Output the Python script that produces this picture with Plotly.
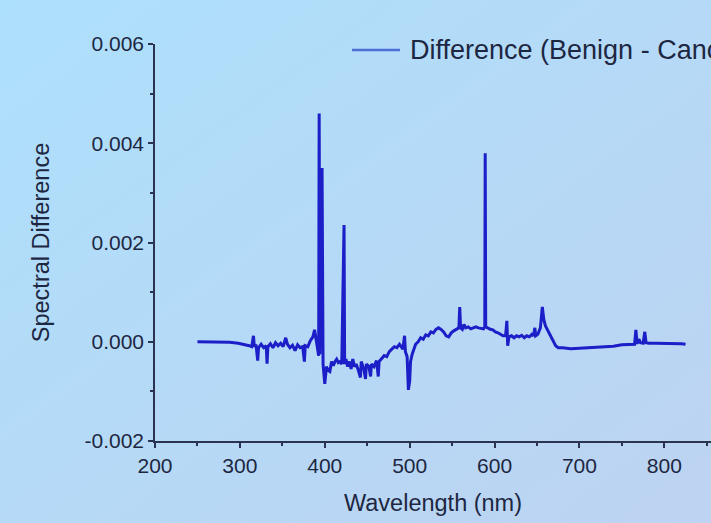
import base64
import plotly.graph_objects as go

# Difference spectrum (benign minus cancerous), wavelength in nm
wavelength_nm = [
    250, 262, 275, 288, 298, 305, 311, 314, 316, 317, 319, 321, 322, 325, 328,
    331, 332, 333, 336, 339, 342, 345, 348, 351, 354, 356, 359, 362, 365, 368,
    371, 374, 376, 377, 380, 383, 386, 388, 390, 391.5, 392.8, 393.4, 394.2,
    396.8, 398, 400, 402, 404, 406, 408, 410, 412, 414, 416, 418, 420, 422.1,
    422.7, 423.4, 425, 427, 429, 431, 433, 435, 437, 440, 442, 443, 446, 448,
    449, 452, 454, 455, 458, 461, 463, 464, 467, 470, 473, 476, 479, 482, 485,
    488, 490, 492, 494, 495, 497, 498.5, 500, 501, 503, 505, 507, 510, 513,
    516, 519, 522, 525, 528, 531, 534, 537, 540, 543, 546, 549, 552, 555, 558,
    559, 560, 562, 564, 566, 569, 572, 575, 578, 581, 584, 587, 588.5, 589,
    589.6, 592, 595, 598, 601, 604, 607, 610, 613, 614.5, 615.5, 617, 620, 623,
    626, 629, 632, 635, 638, 641, 644, 646, 647.5, 648.5, 651, 654, 656.3, 658,
    660, 662, 664, 666, 668, 670, 672, 675, 680, 690, 700, 710, 720, 730, 740,
    750, 760, 765, 766.5, 768, 770, 772, 775, 777, 778.5, 782, 790, 800, 810,
    820, 825,
]
spectral_difference = [
    0.0, 0.0, 0.0, -0.00001, -0.00003, -0.00005, -0.00008, -0.0001, 0.00012,
    -0.0001, -0.00006, -0.00038, -0.00012, -0.00005, -0.00012,
    -0.00008, -0.00044, -0.0001, -0.00004, -0.00012, -0.00002, -0.00008,
    -0.00003, -0.0001, 0.00008, -0.00005, -0.00012, -0.00007, -0.00018,
    -0.00006, -0.00012, -0.0001, -0.0004, -0.00008, -0.0001, 0.00002, 0.0001,
    0.00024, 0.00004, -0.00012, -0.00028, 0.0046, -0.00025,
    0.0035, -0.00045, -0.00085, -0.0005, -0.00058, -0.0006, -0.0004, -0.00048,
    -0.0004, -0.00035, -0.00042, -0.0004, -0.00045, 0.00208,
    0.00235, -0.00045, -0.00035, -0.0005, -0.0004, -0.00055, -0.00035, -0.0005,
    -0.00045, -0.0006, -0.00072, -0.0004, -0.00055, -0.00075,
    -0.00045, -0.0005, -0.0007, -0.00045, -0.0005, -0.00038, -0.0007, -0.0004,
    -0.00035, -0.00028, -0.0003, -0.0002, -0.00015, -0.0001, -0.00012,
    -0.00005, -0.0001, -0.00015, 0.00012, -0.0002, -0.0003, -0.00097, -0.0008,
    -0.0004, -0.00025, -0.00015, -0.00005, 0.0, 0.00008,
    0.00005, 0.00014, 0.00012, 0.0002, 0.00018, 0.00025, 0.00028, 0.00025,
    0.0002, 0.00012, 0.0001, 0.00018, 0.00022, 0.00025, 0.00028,
    0.0007, 0.00028, 0.00025, 0.00035, 0.00028, 0.0003, 0.00026, 0.00028,
    0.0003, 0.00028, 0.00027, 0.00026, 0.0003, 0.0038,
    0.0003, 0.00027, 0.00025, 0.00024, 0.0002, 0.00018, 0.00015, 0.00012,
    0.00012, 0.00042, -0.00008, 0.0001, 0.00012, 0.00008,
    0.00012, 0.0001, 0.00013, 0.00008, 0.00012, 0.0001, 0.00015, 0.00012,
    0.00028, 0.00012, 0.00015, 0.00028, 0.0007, 0.00045,
    0.00032, 0.00025, 0.00018, 0.00012, 0.00005, -0.00002, -0.00008, -0.00012,
    -0.00012, -0.00014, -0.00013, -0.00012, -0.0001, -0.0001, -0.00009,
    -0.00006, -0.00005, -0.00005, 0.00024, -0.00004, 0.00005, -0.00002,
    -0.00003, 0.0002, -0.00002, -0.00003, -0.00003, -0.00003, -0.00004,
    -0.00004, -0.00005,
]

x_tick_vals = [200, 300, 400, 500, 600, 700, 800]
x_tick_text = ["200", "300", "400", "500", "600", "700", "800"]
y_tick_vals = [-0.002, 0.0, 0.002, 0.004, 0.006]
y_tick_text = ["-0.002", "0.000", "0.002", "0.004", "0.006"]

legend_label = "Difference (Benign - Cancer)"

FONT = "Liberation Sans, Arial, sans-serif"
INK = "#1d2742"
AXIS = "#2a3350"
LINE_BLUE = "#1c1ec8"

W, H = 711, 523
ML, MR, MT, MB = 155, 0, 44, 82
PW, PH = W - ML - MR, H - MT - MB

# soft diagonal backdrop behind the whole figure
bg_svg = (
    f"<svg xmlns='http://www.w3.org/2000/svg' width='{W}' height='{H}' "
    f"preserveAspectRatio='none'><defs><linearGradient id='g' x1='0' y1='0' "
    f"x2='1' y2='1'><stop offset='0' stop-color='#ade0fc'/>"
    f"<stop offset='1' stop-color='#bdd3f1'/></linearGradient></defs>"
    f"<rect width='{W}' height='{H}' fill='url(#g)'/></svg>"
)
bg_uri = "data:image/svg+xml;base64," + base64.b64encode(bg_svg.encode()).decode()

fig = go.Figure()
fig.add_trace(go.Scatter(
    x=wavelength_nm,
    y=spectral_difference,
    mode="lines",
    line=dict(color=LINE_BLUE, width=3),
    name=legend_label,
    showlegend=False,
))

axis_common = dict(
    showgrid=False,
    zeroline=False,
    showline=True,
    linecolor=AXIS,
    linewidth=1.5,
    ticks="outside",
    ticklen=5,
    tickwidth=1.5,
    tickcolor=AXIS,
    tickfont=dict(family=FONT, size=21, color=INK),
    automargin=True,
)

fig.update_xaxes(
    range=[200, 855],
    tickvals=x_tick_vals,
    ticktext=x_tick_text,
    minor=dict(dtick=50, ticks="outside", ticklen=3, tickwidth=1.5,
               tickcolor=AXIS),
    title=dict(text="Wavelength (nm)", standoff=19,
               font=dict(family=FONT, size=23.5, color=INK)),
    **axis_common,
)
fig.update_yaxes(
    range=[-0.002, 0.006],
    tickvals=y_tick_vals,
    ticktext=y_tick_text,
    minor=dict(dtick=0.001, ticks="outside", ticklen=3, tickwidth=1.5,
               tickcolor=AXIS),
    title=dict(text="Spectral Difference", standoff=28,
               font=dict(family=FONT, size=23.5, color=INK)),
    **axis_common,
)

# Legend entry: sample line plus label (runs off the right edge of the page)
fig.add_shape(type="line", xref="paper", yref="paper",
              x0=(352 - ML) / PW, x1=(400 - ML) / PW, y0=0.985, y1=0.985,
              line=dict(color="#4f6fd8", width=2.5))
fig.add_annotation(xref="paper", yref="paper", x=(408 - ML) / PW, y=0.985,
                   xanchor="left", yanchor="middle", showarrow=False,
                   text=legend_label,
                   font=dict(family=FONT, size=27, color=INK))

fig.add_layout_image(
    source=bg_uri, xref="paper", yref="paper",
    x=-ML / PW, y=1 + MT / PH, sizex=W / PW, sizey=H / PH,
    xanchor="left", yanchor="top", sizing="stretch", layer="below",
)

fig.update_layout(
    width=W,
    height=H,
    margin=dict(l=ML, r=MR, t=MT, b=MB),
    paper_bgcolor="#b5d9f5",
    plot_bgcolor="rgba(0,0,0,0)",
)

fig.write_html("out.html")
